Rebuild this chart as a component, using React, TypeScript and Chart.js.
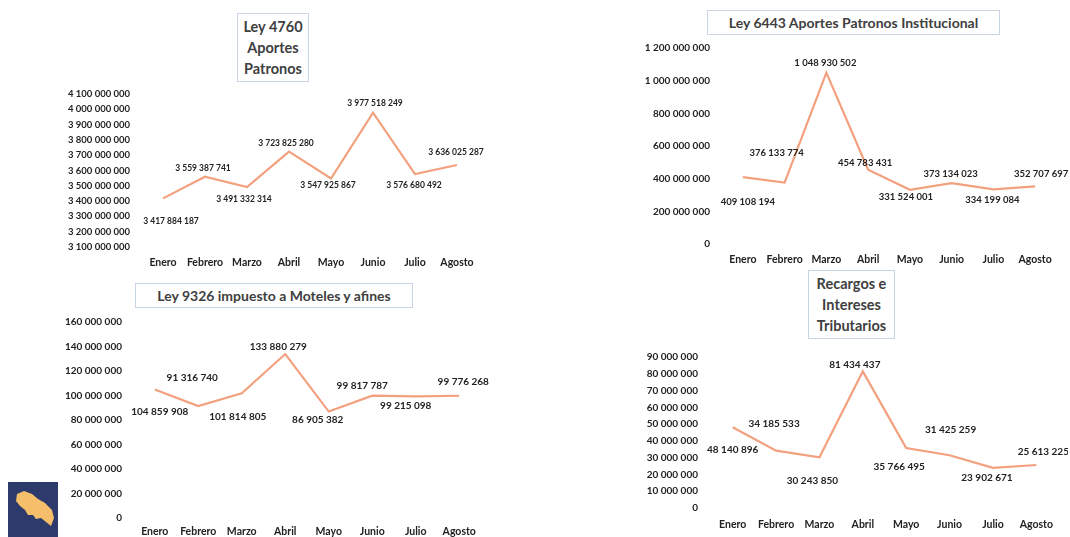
import React, { useEffect, useRef } from "react";
import { Chart, registerables } from "chart.js";

Chart.register(...registerables);

const months = ["Enero", "Febrero", "Marzo", "Abril", "Mayo", "Junio", "Julio", "Agosto"];

const ley4760 = [3417884187, 3559387741, 3491332314, 3723825280, 3547925867, 3977518249, 3576680492, 3636025287];
const ley6443 = [409108194, 376133774, 1048930502, 454783431, 331524001, 373134023, 334199084, 352707697];
const ley9326 = [104859908, 91316740, 101814805, 133880279, 86905382, 99817787, 99215098, 99776268];
const recargos = [48140896, 34185533, 30243850, 81434437, 35766495, 31425259, 23902671, 25613225];

// label offsets (dx, dy) relative to each point
const off4760 = [[8, 23], [-2, -8], [-3, 12], [-3, -8], [-3, 7], [2, -9], [-1, 11], [-1, -13]];
const off6443 = [[5, 25], [-8, -30], [-1, -10], [-3, -7], [-4, 7], [-1, -9], [-1, 11], [6, -12]];
const off9326 = [[5, 22], [-6, -28], [-4, 24], [-7, -7], [-11, 8], [-10, -10], [-10, 9], [4, -14]];
const offRec = [[0, 23], [-2, -27], [-7, 24], [-8, -7], [-7, 19], [1, -25], [-6, 10], [7, -13]];

const fmt = (n: number) => Math.round(n).toString().replace(/\B(?=(\d{3})+(?!\d))/g, " ");

const FONT = "Lato, 'Open Sans', sans-serif";
const TEXT = "#222222";
const LINE = "#F3A07E";

type Cfg = {
  data: number[];
  offsets: number[][];
  min: number;
  max: number;
  step: number;
  canvas: { x: number; y: number; w: number; h: number };
  plot: { l: number; t: number; r: number; b: number };
  yPad: number;
  xPad: number;
  labelSize: number;
  tickSize: number;
};

const configs: Cfg[] = [
  {
    data: ley4760, offsets: off4760, min: 3100000000, max: 4100000000, step: 100000000,
    canvas: { x: 40, y: 84, w: 460, h: 190 }, plot: { l: 142, t: 94, r: 478, b: 247 },
    yPad: 12, xPad: 9, labelSize: 8.5, tickSize: 9.5,
  },
  {
    data: ley6443, offsets: off6443, min: 0, max: 1200000000, step: 200000000,
    canvas: { x: 630, y: 38, w: 438, h: 236 }, plot: { l: 722, t: 48, r: 1056, b: 244 },
    yPad: 12, xPad: 9, labelSize: 9.5, tickSize: 10,
  },
  {
    data: ley9326, offsets: off9326, min: 0, max: 160000000, step: 20000000,
    canvas: { x: 50, y: 312, w: 445, h: 225 }, plot: { l: 133, t: 322, r: 481, b: 518 },
    yPad: 11, xPad: 7, labelSize: 10, tickSize: 10,
  },
  {
    data: recargos, offsets: offRec, min: 0, max: 90000000, step: 10000000,
    canvas: { x: 630, y: 347, w: 438, h: 190 }, plot: { l: 711, t: 357, r: 1058, b: 508 },
    yPad: 13, xPad: 10, labelSize: 10, tickSize: 10,
  },
];

const titles = [
  { lines: ["Ley 4760", "Aportes", "Patronos"], x: 237, y: 13, w: 72, h: 69, size: 14.5 },
  { lines: ["Ley 6443 Aportes Patronos Institucional"], x: 707, y: 10, w: 293, h: 25, size: 14 },
  { lines: ["Ley 9326 impuesto a Moteles y afines"], x: 135, y: 283, w: 278, h: 25, size: 14 },
  { lines: ["Recargos e", "Intereses", "Tributarios"], x: 808, y: 270, w: 87, h: 69, size: 14.5 },
];

function LineChart({ cfg }: { cfg: Cfg }) {
  const ref = useRef<HTMLCanvasElement>(null);
  useEffect(() => {
    if (!ref.current) return;
    const { canvas, plot } = cfg;
    const yW = plot.l - canvas.x;
    const xH = canvas.y + canvas.h - plot.b;
    const labelsPlugin = {
      id: "pointLabels",
      afterDatasetsDraw(chart: any) {
        const ctx = chart.ctx;
        const meta = chart.getDatasetMeta(0);
        ctx.save();
        ctx.font = `bold ${cfg.labelSize}px ${FONT}`;
        ctx.fillStyle = TEXT;
        ctx.textAlign = "center";
        ctx.textBaseline = "middle";
        meta.data.forEach((pt: any, i: number) => {
          const o = cfg.offsets[i];
          ctx.fillText(fmt(cfg.data[i]), pt.x + o[0], pt.y + o[1]);
        });
        ctx.restore();
      },
    };
    const chart = new Chart(ref.current, {
      type: "line",
      data: {
        labels: months,
        datasets: [
          {
            data: cfg.data,
            borderColor: LINE,
            borderWidth: 2.2,
            pointRadius: 0,
            tension: 0,
            fill: false,
          },
        ],
      },
      options: {
        responsive: false,
        animation: false,
        layout: {
          padding: { top: plot.t - canvas.y, right: canvas.x + canvas.w - plot.r, left: 0, bottom: 0 },
        },
        plugins: { legend: { display: false }, tooltip: { enabled: false }, title: { display: false } },
        scales: {
          x: {
            type: "category",
            offset: true,
            grid: { display: false, drawTicks: false },
            border: { display: false },
            ticks: {
              color: TEXT,
              font: { family: FONT, size: 10.5, weight: "bold" },
              padding: cfg.xPad,
              maxRotation: 0,
              autoSkip: false,
            },
            afterFit: (s: any) => { s.height = xH; s.paddingLeft = 0; s.paddingRight = 0; },
          },
          y: {
            min: cfg.min,
            max: cfg.max,
            grid: { display: false, drawTicks: false },
            border: { display: false },
            ticks: {
              stepSize: cfg.step,
              autoSkip: false,
              color: TEXT,
              font: { family: FONT, size: cfg.tickSize, weight: "bold" },
              padding: cfg.yPad,
              callback: (v: any) => fmt(Number(v)),
            },
            afterFit: (s: any) => { s.width = yW; s.paddingTop = 0; s.paddingBottom = 0; },
          },
        },
      } as any,
      plugins: [labelsPlugin],
    });
    return () => chart.destroy();
  }, [cfg]);
  return (
    <canvas
      ref={ref}
      width={cfg.canvas.w}
      height={cfg.canvas.h}
      style={{ position: "absolute", left: cfg.canvas.x, top: cfg.canvas.y, width: cfg.canvas.w, height: cfg.canvas.h }}
    />
  );
}

export default function App() {
  return (
    <div style={{ position: "absolute", left: 0, top: 0, width: 1070, height: 537, background: "#fff", overflow: "hidden" }}>
      {titles.map((t, i) => (
        <div
          key={i}
          style={{
            position: "absolute",
            left: t.x,
            top: t.y,
            width: t.w,
            height: t.h,
            boxSizing: "border-box",
            border: "1px solid #C9D5E6",
            display: "flex",
            flexDirection: "column",
            justifyContent: "center",
            alignItems: "center",
            fontFamily: FONT,
            fontWeight: 700,
            fontSize: t.size,
            lineHeight: "21px",
            color: "#404040",
            whiteSpace: "nowrap",
          }}
        >
          {t.lines.map((l, j) => (
            <div key={j}>{l}</div>
          ))}
        </div>
      ))}
      {configs.map((c, i) => (
        <LineChart key={i} cfg={c} />
      ))}
      <svg style={{ position: "absolute", left: 8, top: 482 }} width={50} height={55} viewBox="0 0 50 55">
        <rect x={0} y={0} width={50} height={55} fill="#2C3B6B" />
        <path
          d="M9 12 L16 9 L24 12 L30 17 L37 21 L44 28 L46 36 L43 44 L38 40 L33 36 L28 37 L25 33 L20 33 L17 28 L12 24 L8 19 Z"
          fill="#F4BE6A"
        />
      </svg>
    </div>
  );
}
